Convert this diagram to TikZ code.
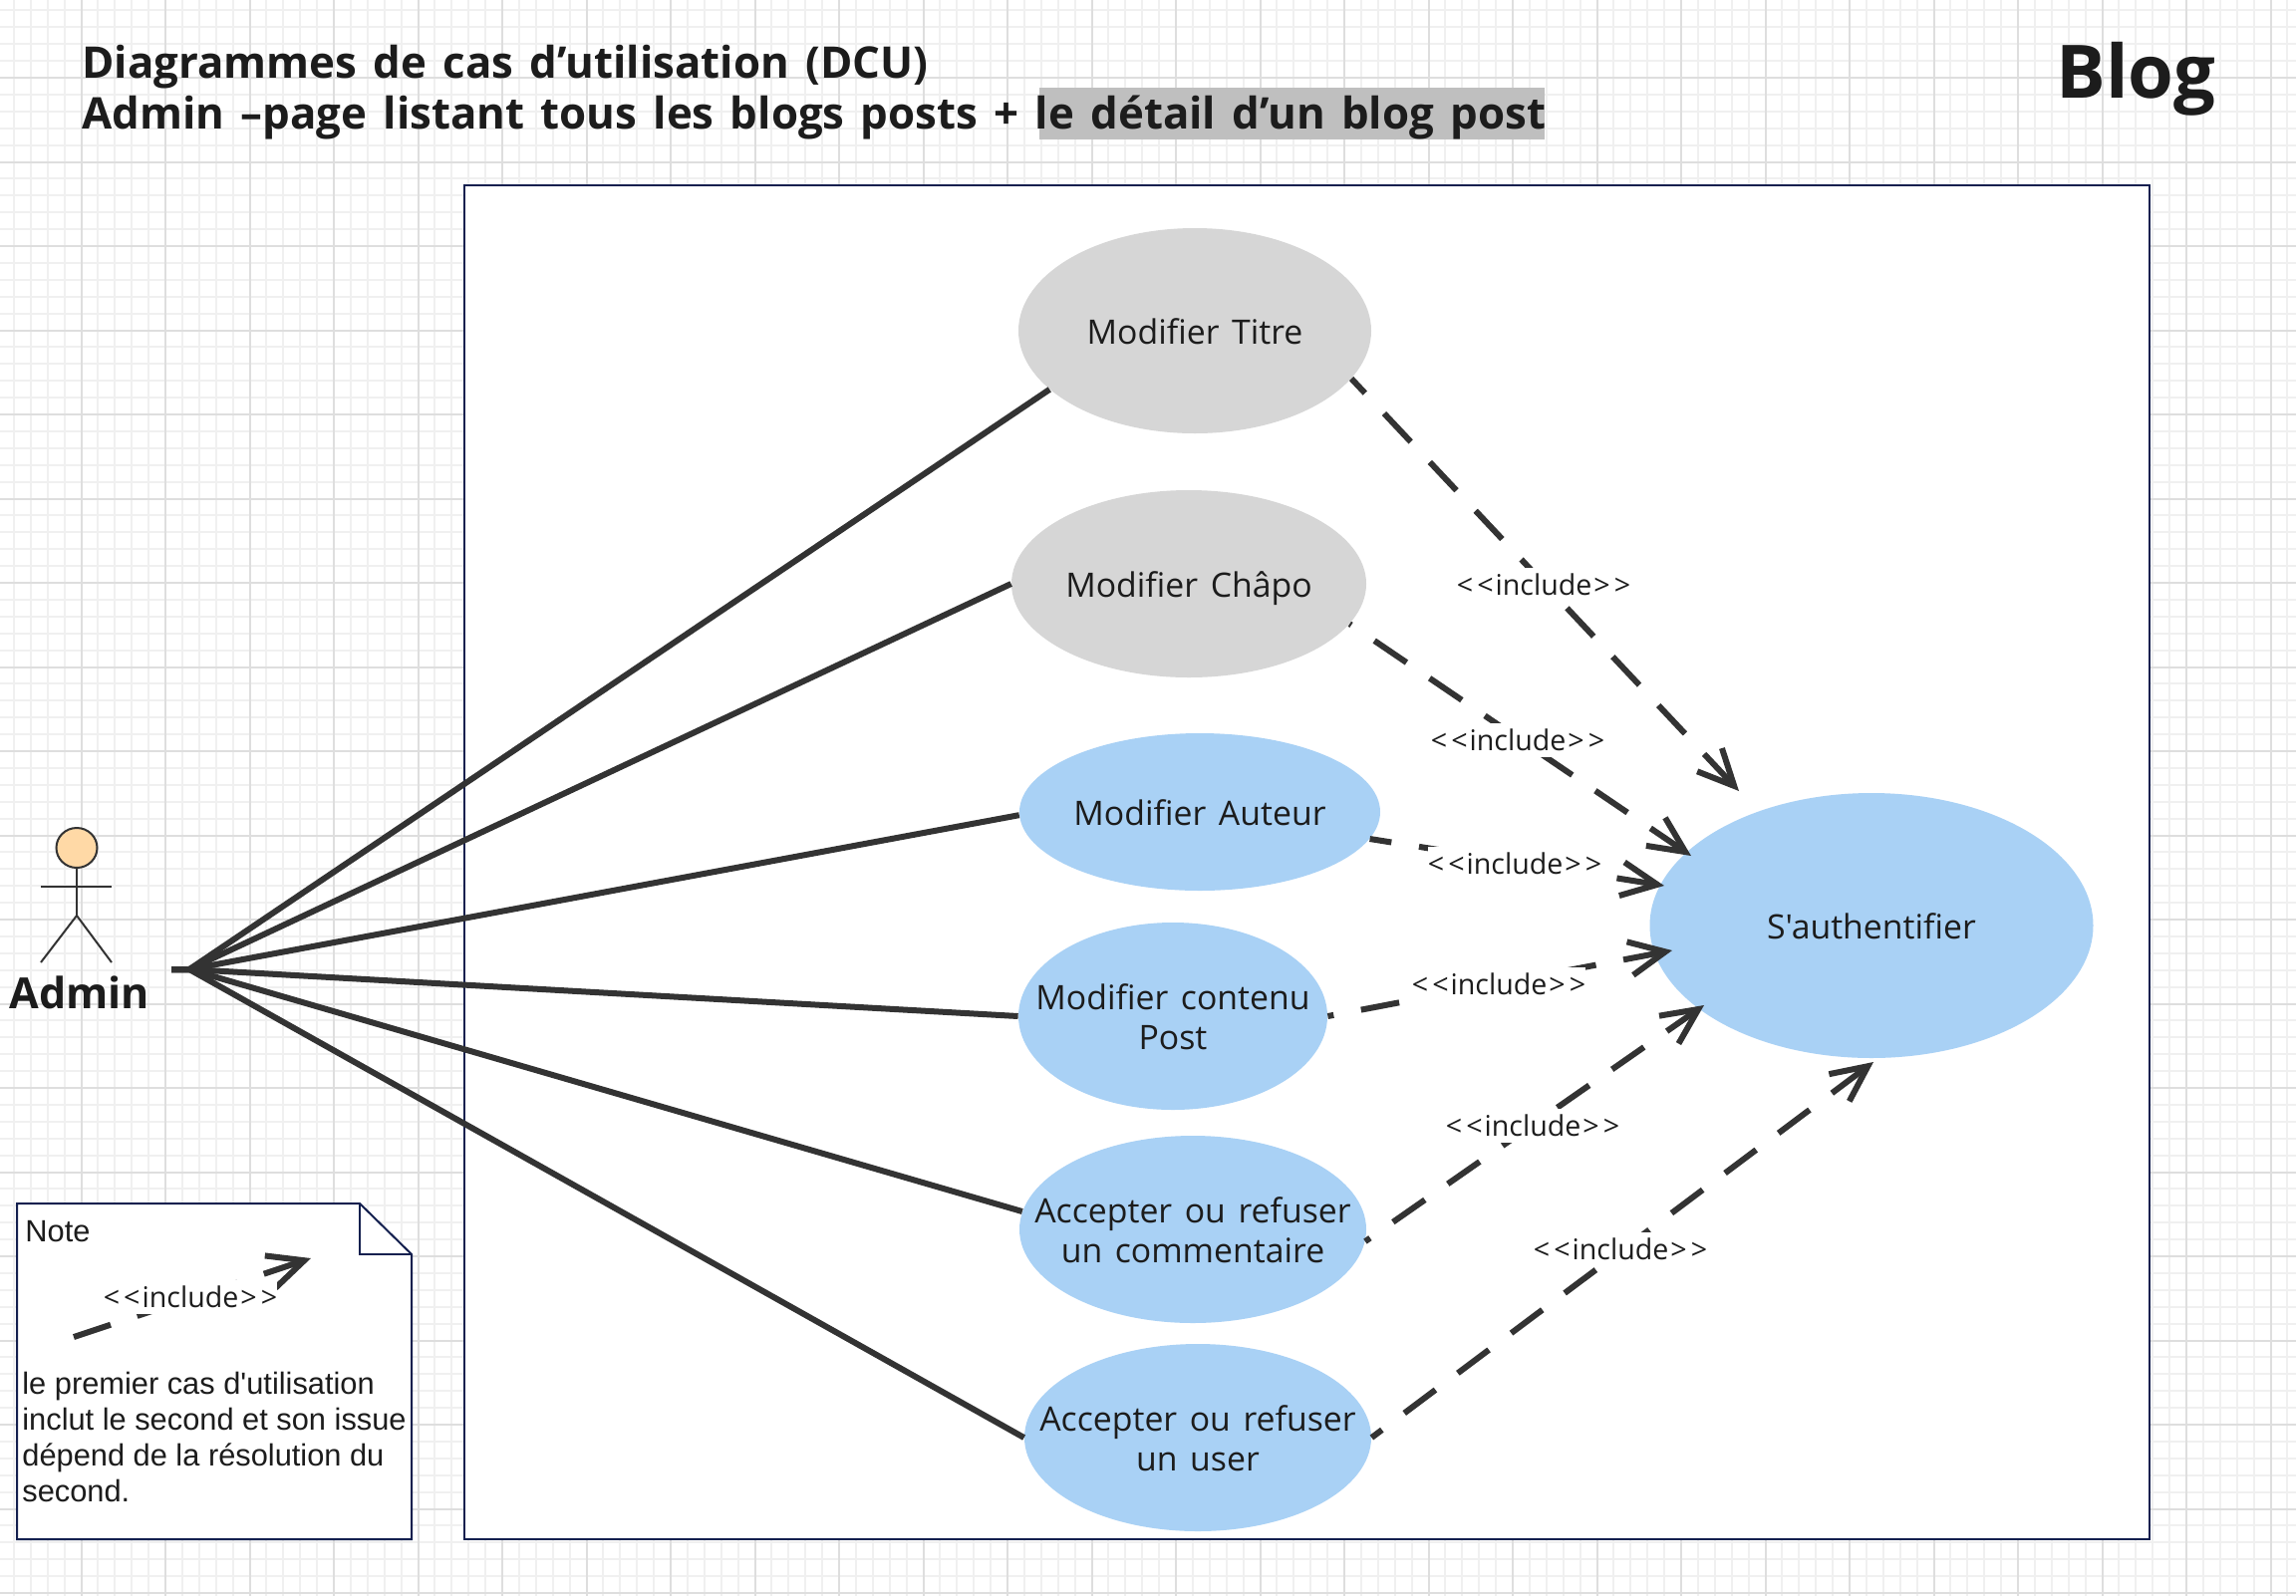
\documentclass[tikz,border=0pt]{standalone}
\usepackage{fontspec}
\newfontfamily\casefont{Open Sans}
\newfontfamily\titlefont[WordSpace=1.43]{Open Sans}
\newfontfamily\notefont{Liberation Sans}
\usetikzlibrary{arrows.meta, shapes.geometric}

\definecolor{gridMajor}{HTML}{DEDEDE}
\definecolor{gridMinor}{HTML}{F0F0F0}
\definecolor{frameNavy}{HTML}{14204F}
\definecolor{caseGrey}{HTML}{D6D6D6}
\definecolor{caseBlue}{HTML}{A9D1F5}
\definecolor{headSkin}{HTML}{FFD9A6}
\definecolor{lineDark}{HTML}{333333}
\definecolor{textDark}{HTML}{1C1C1C}

% ellipse nodes must not grow with their text
\newcommand{\casetext}[1]{\makebox[0pt]{\raisebox{-7.3pt}[0pt][0pt]{\begin{tabular}{@{}c@{}}#1\end{tabular}}}}
\newcommand{\incltext}{<\kern2pt<\kern1pt include\kern1pt>\kern2pt>}

\tikzset{
    usecase/.style={draw=none, ellipse, inner sep=0pt, text=textDark, font=\casefont\fontsize{16.9}{20}\selectfont},
    assoc/.style={draw=lineDark, line width=3pt},
    incl/.style={draw=lineDark, line width=3pt, dash pattern=on 19.5pt off 14pt, -{Straight Barb[length=18pt, width=17pt, line width=3pt]}},
    incllabel/.style={fill=white, inner xsep=0pt, inner ysep=0pt, minimum height=17pt, text=textDark, font=\casefont\fontsize{14.3}{16}\selectfont},
    frame/.style={draw=frameNavy, line width=1pt},
    titleline/.style={anchor=base west, inner sep=0pt, text=textDark, font=\titlefont\fontsize{21.9}{25}\selectfont\bfseries}
}

\begin{document}
\begin{tikzpicture}[x=0.5pt, y=-0.5pt]
    \useasboundingbox (0,0) rectangle (2304,1602);

    % Grid paper
    \fill[white] (0,0) rectangle (2304,1602);
    \foreach \k in {0,...,136} {
        \draw[gridMinor, line width=1pt] ({13.9+16.9*\k},0) -- ({13.9+16.9*\k},1602);
    }
    \foreach \k in {0,...,94} {
        \draw[gridMinor, line width=1pt] (0,{10.4+16.9*\k}) -- (2304,{10.4+16.9*\k});
    }
    \foreach \k in {0,...,26} {
        \draw[gridMajor, line width=1pt] ({81.6+84.5*\k},0) -- ({81.6+84.5*\k},1602);
    }
    \foreach \k in {0,...,18} {
        \draw[gridMajor, line width=1pt] (0,{78+84.5*\k}) -- (2304,{78+84.5*\k});
    }

    % Titles
    \fill[black!25] (1043,88) rectangle (1550,140);
    \node (titleOne) [titleline] at (82,78) {Diagrammes de cas d’utilisation (DCU)};
    \node (titleTwo) [titleline] at (82,129) {Admin –page listant tous les blogs posts + le détail d’un blog post};
    \node (blogTitle) [anchor=base east, inner sep=0pt, text=textDark, font=\casefont\fontsize{37}{44}\selectfont\bfseries] at (2224,98) {Blog};

    % System frame
    \node (system) [frame, fill=white, rectangle, inner sep=0pt, minimum width=845.5pt, minimum height=679.5pt, anchor=north west] at (465,185) {};

    % Use cases
    \node (titre) [usecase, fill=caseGrey, minimum width=177pt, minimum height=103pt] at (1199,332) {\casetext{Modifier Titre}};
    \node (chapo) [usecase, fill=caseGrey, minimum width=178pt, minimum height=94pt] at (1193,586) {\casetext{Modifier Châpo}};
    \node (auteur) [usecase, fill=caseBlue, minimum width=181pt, minimum height=79pt] at (1204,815) {\casetext{Modifier Auteur}};
    \node (contenu) [usecase, fill=caseBlue, minimum width=155pt, minimum height=94pt] at (1177,1020) {\casetext{Modifier contenu\\Post}};
    \node (commentaire) [usecase, fill=caseBlue, minimum width=174pt, minimum height=94pt] at (1197,1234) {\casetext{Accepter ou refuser\\un commentaire}};
    \node (user) [usecase, fill=caseBlue, minimum width=174pt, minimum height=94pt] at (1202,1443) {\casetext{Accepter ou refuser\\un user}};
    \node (auth) [usecase, fill=caseBlue, minimum width=222.5pt, minimum height=133pt] at (1878,929) {\casetext{S'authentifier}};

    % Actor
    \node (head) [draw=lineDark, line width=1pt, fill=headSkin, ellipse, inner sep=0pt, minimum width=20.5pt, minimum height=20pt] at (77,851) {};
    \coordinate (neck) at (77,919);
    \coordinate (armL) at (41,890);
    \coordinate (armR) at (112,890);
    \coordinate (footL) at (41,966);
    \coordinate (footR) at (112,966);
    \draw[lineDark, line width=1pt] (head) -- (neck);
    \draw[lineDark, line width=1pt] (armL) -- (armR);
    \draw[lineDark, line width=1pt] (footL) -- (neck) -- (footR);
    \node (admin) [inner sep=0pt, text=textDark, font=\casefont\fontsize{21.5}{24}\selectfont\bfseries] at (80,996) {Admin};

    % Associations from the actor
    \coordinate (port) at (172,973);
    \coordinate (fan) at (190,973);
    \draw[assoc] (port) -- (fan) -- (titre.202);
    \draw[assoc] (port) -- (fan) -- (chapo.180);
    \draw[assoc] (port) -- (fan) -- (auteur.181);
    \draw[assoc] (port) -- (fan) -- (contenu.180);
    \draw[assoc] (port) -- (fan) -- (commentaire.174);
    \draw[assoc] (port) -- (fan) -- (user.180);

    % Include arrows
    \coordinate (tipTitre) at (1745,794);
    \coordinate (tipChapo) at (1697,859);
    \coordinate (tipAuteur) at (1670,889);
    \coordinate (tipContenu) at (1678,954);
    \coordinate (tipCommentaire) at (1710,1009);
    \coordinate (tipUser) at (1880,1066);
    \draw[incl, dash phase=9.5pt] (titre.-17.6) -- (tipTitre);
    \draw[incl, dash phase=18.5pt] (chapo.-14.7) -- (tipChapo);
    \draw[incl, dash phase=8.5pt] (auteur.-9.4) -- (tipAuteur);
    \draw[incl, dash phase=16.5pt] (contenu.0) -- (tipContenu);
    \draw[incl, dash phase=16.5pt] (commentaire.-4.6) -- (tipCommentaire);
    \draw[incl, dash phase=13pt] (user.0) -- (tipUser);

    \node (lblTitre) [incllabel] at (1549,587) {\incltext};
    \node (lblChapo) [incllabel] at (1523,743) {\incltext};
    \node (lblAuteur) [incllabel] at (1520,867) {\incltext};
    \node (lblContenu) [incllabel] at (1504,988) {\incltext};
    \node (lblCommentaire) [incllabel] at (1538,1130) {\incltext};
    \node (lblUser) [incllabel] at (1626,1254) {\incltext};

    % Note
    \draw[frame, fill=white] (17,1208) -- (361,1208) -- (413,1259) -- (413,1545) -- (17,1545) -- cycle;
    \draw[frame] (361,1208) -- (361,1259) -- (413,1259);
    \node (noteHead) [anchor=base west, inner sep=0pt, text=textDark, font=\notefont\fontsize{15.4}{17}\selectfont] at (25,1246) {Note};
    \coordinate (noteFrom) at (74,1342);
    \coordinate (noteTo) at (312,1263);
    \draw[incl] (noteFrom) -- (noteTo);
    \node (lblNote) [incllabel] at (191,1302) {\incltext};
    \node (noteText) [anchor=north west, inner sep=0pt, align=left, text=textDark, font=\notefont\fontsize{15.4}{18}\selectfont] at (22,1377) {le premier cas d'utilisation\\inclut le second et son issue\\dépend de la résolution du\\second.};

\end{tikzpicture}
\end{document}
